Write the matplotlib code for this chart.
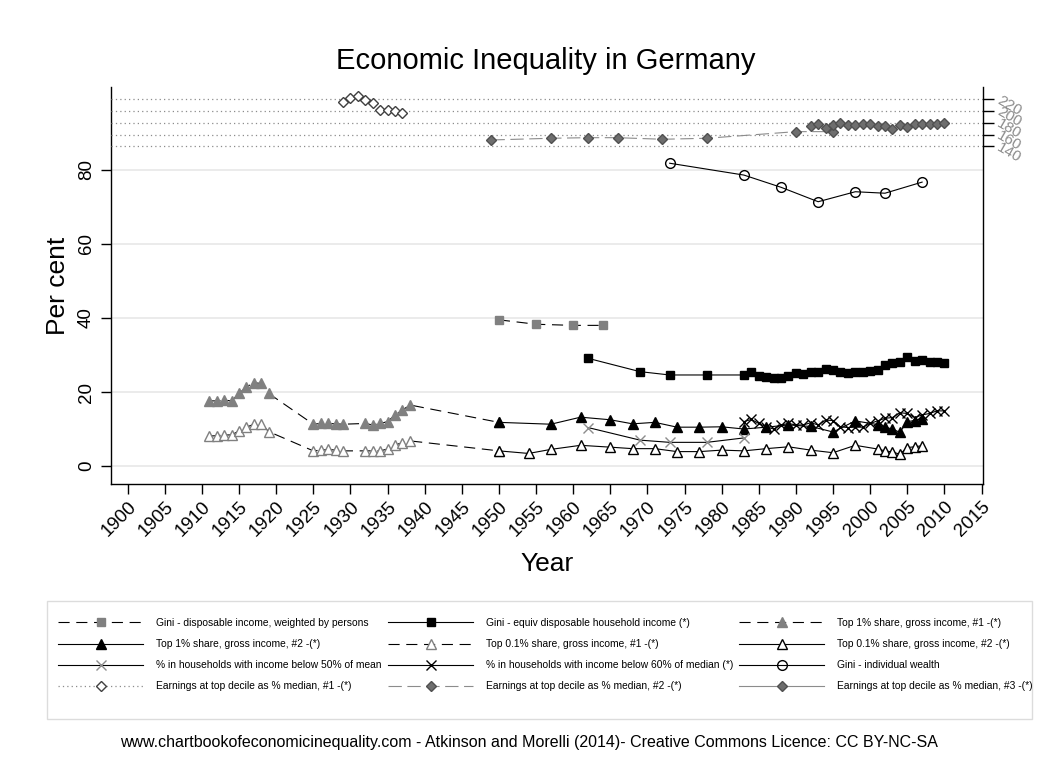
import matplotlib.pyplot as plt
from matplotlib.patches import Rectangle

plt.rcParams['font.family'] = ['Liberation Sans', 'DejaVu Sans']

# ---- data ----
gini_disp_years = [1950, 1955, 1960, 1964]
gini_disp_vals = [39.5, 38.3, 38.0, 38.0]

gini_equiv_years = [1962, 1969, 1973, 1978, 1983, 1984, 1985, 1986, 1987, 1988, 1989,
                    1990, 1991, 1992, 1993, 1994, 1995, 1996, 1997, 1998, 1999, 2000,
                    2001, 2002, 2003, 2004, 2005, 2006, 2007, 2008, 2009, 2010]
gini_equiv_vals = [29.1, 25.5, 24.6, 24.6, 24.6, 25.5, 24.4, 24.1, 23.9, 23.9, 24.4,
                   25.0, 24.8, 25.5, 25.5, 26.2, 26.0, 25.3, 25.0, 25.3, 25.3, 25.7,
                   26.0, 27.3, 27.8, 28.0, 29.5, 28.4, 28.7, 28.2, 28.2, 27.8]

top1_a_years = [1911, 1912, 1913, 1914, 1915, 1916, 1917, 1918, 1919,
                1925, 1926, 1927, 1928, 1929,
                1932, 1933, 1934, 1935, 1936, 1937, 1938, 1950]
top1_a_vals = [17.6, 17.6, 17.8, 17.6, 19.6, 21.4, 22.5, 22.3, 19.6,
               11.3, 11.5, 11.5, 11.4, 11.3,
               11.5, 11.1, 11.5, 12.0, 13.8, 15.1, 16.5, 11.8]

top1_b_years = [1950, 1957, 1961, 1965, 1968, 1971, 1974, 1977, 1980, 1983, 1986,
                1989, 1992, 1995, 1998, 2001, 2002, 2003, 2004, 2005, 2006, 2007]
top1_b_vals = [11.8, 11.3, 13.2, 12.5, 11.4, 11.8, 10.5, 10.5, 10.6, 10.0, 10.5,
               11.1, 10.7, 9.2, 12.2, 11.2, 10.5, 10.0, 9.1, 12.0, 12.3, 12.8]

top01_a_years = [1911, 1912, 1913, 1914, 1915, 1916, 1917, 1918, 1919,
                 1925, 1926, 1927, 1928, 1929,
                 1932, 1933, 1934, 1935, 1936, 1937, 1938, 1950]
top01_a_vals = [8.1, 8.2, 8.4, 8.4, 9.5, 10.5, 11.3, 11.3, 9.3,
                4.1, 4.3, 4.5, 4.3, 4.1,
                4.1, 4.1, 4.1, 4.6, 5.7, 6.3, 6.8, 4.1]

top01_b_years = [1950, 1954, 1957, 1961, 1965, 1968, 1971, 1974, 1977, 1980, 1983,
                 1986, 1989, 1992, 1995, 1998, 2001, 2002, 2003, 2004, 2005, 2006, 2007]
top01_b_vals = [4.1, 3.4, 4.5, 5.6, 5.1, 4.7, 4.7, 3.9, 3.9, 4.3, 4.1,
                4.7, 5.2, 4.3, 3.6, 5.6, 4.6, 4.1, 3.8, 3.2, 5.0, 5.2, 5.5]

pov50_years = [1962, 1969, 1973, 1978, 1983]
pov50_vals = [10.4, 7.0, 6.4, 6.4, 7.6]

pov60_years = [1983, 1984, 1985, 1986, 1987, 1988, 1989, 1990, 1991, 1992, 1993, 1994,
               1995, 1996, 1997, 1998, 1999, 2000, 2001, 2002, 2003, 2004, 2005, 2006,
               2007, 2008, 2009, 2010]
pov60_vals = [12.0, 12.6, 11.5, 10.6, 10.0, 11.1, 11.5, 11.1, 11.1, 11.7, 11.1, 12.4,
              12.3, 10.6, 10.4, 10.5, 10.5, 11.5, 12.2, 12.9, 13.1, 14.4, 14.2, 13.1,
              13.8, 14.2, 14.9, 14.9]

wealth_years = [1973, 1983, 1988, 1993, 1998, 2002, 2007]
wealth_vals = [81.8, 78.6, 75.3, 71.4, 74.1, 73.7, 76.7]

# earnings at top decile, % of median (right axis)
earn1_years = [1929, 1930, 1931, 1932, 1933, 1934, 1935, 1936, 1937]
earn1_vals = [215.9, 221.7, 225.6, 218.8, 213.2, 201.8, 201.8, 200.1, 196.2]

earn2_years = [1949, 1957, 1962, 1966, 1972, 1978, 1990, 1995]
earn2_vals = [150.7, 153.6, 154.6, 154.6, 151.9, 153.6, 164.9, 164.9]

earn3_years = [1992, 1993, 1994, 1995, 1996, 1997, 1998, 1999, 2000, 2001, 2002,
               2003, 2004, 2005, 2006, 2007, 2008, 2009, 2010]
earn3_vals = [175.1, 178.0, 171.7, 176.3, 179.1, 176.3, 176.3, 178.5, 178.5, 174.6,
              175.1, 168.9, 176.3, 173.4, 178.5, 178.5, 178.5, 178.5, 180.2]

x_ticks = list(range(1900, 2016, 5))
left_ticks = [0, 20, 40, 60, 80]
right_ticks = [140, 160, 180, 200, 220]

# ---- figure ----
fig = plt.figure(figsize=(10.51, 7.71), dpi=100)
ax = fig.add_axes([0.1056, 0.3722, 0.8297, 0.515])

gray = '#808080'
dash = (0, (10, 6))
lw = 0.8

h_gdisp, = ax.plot(gini_disp_years, gini_disp_vals, color='black', lw=lw, ls=dash,
                   marker='s', ms=6, mfc=gray, mec=gray,
                   label='Gini - disposable income, weighted by persons')
h_gequiv, = ax.plot(gini_equiv_years, gini_equiv_vals, color='black', lw=lw,
                    marker='s', ms=6, mfc='black', mec='black',
                    label='Gini - equiv disposable household income (*)')
h_t1a, = ax.plot(top1_a_years, top1_a_vals, color='black', lw=lw, ls=dash,
                 marker='^', ms=7, mfc=gray, mec=gray,
                 label='Top 1% share, gross income, #1 -(*)')
h_t1b, = ax.plot(top1_b_years, top1_b_vals, color='black', lw=lw,
                 marker='^', ms=7, mfc='black', mec='black',
                 label='Top 1% share, gross income, #2 -(*)')
h_t01a, = ax.plot(top01_a_years, top01_a_vals, color='black', lw=lw, ls=dash,
                  marker='^', ms=7, mfc='white', mec=gray, mew=1,
                  label='Top 0.1% share, gross income, #1 -(*)')
h_t01b, = ax.plot(top01_b_years, top01_b_vals, color='black', lw=lw,
                  marker='^', ms=7, mfc='white', mec='black', mew=1,
                  label='Top 0.1% share, gross income, #2 -(*)')
h_p50, = ax.plot(pov50_years, pov50_vals, color='black', lw=lw,
                 marker='x', ms=7, mec='#8c8c8c', mew=1,
                 label='% in households with income below 50% of mean')
h_p60, = ax.plot(pov60_years, pov60_vals, color='black', lw=lw,
                 marker='x', ms=7, mec='black', mew=1,
                 label='% in households with income below 60% of median (*)')
h_w, = ax.plot(wealth_years, wealth_vals, color='black', lw=lw,
               marker='o', ms=7, mfc='none', mec='black', mew=1,
               label='Gini - individual wealth')

ax.set_xlim(1897.75, 2015.2)
ax.set_ylim(-4.86, 102.4)
ax.set_xticks(x_ticks)
ax.set_xticklabels([str(t) for t in x_ticks], rotation=45, ha='right',
                   rotation_mode='anchor', fontsize=13.5)
ax.set_yticks(left_ticks)
ax.set_yticklabels([str(t) for t in left_ticks], fontsize=13.5, rotation=90, va='center')
ax.tick_params(axis='x', length=7, width=1, pad=3)
ax.tick_params(axis='y', length=7.5, width=1, pad=4)
ax.grid(axis='y', color='#e8e8e8', lw=1.2)
ax.set_axisbelow(True)
for s in ['top', 'right']:
    ax.spines[s].set_visible(False)
for s in ['left', 'bottom']:
    ax.spines[s].set_linewidth(1)

ax.set_xlabel('Year', fontsize=19)
ax.xaxis.set_label_coords(0.5, -0.172)
ax.set_ylabel('Per cent', fontsize=19)
ax.yaxis.set_label_coords(-0.047, 0.5)

# right axis for earnings
ax2 = ax.twinx()
ax2.set_ylim(-434.8, 240.9)
ax2.set_yticks(right_ticks)
ax2.set_yticklabels([str(t) for t in right_ticks], fontsize=11, color='#8c8c8c',
                    rotation=-30, ha='left', va='center', rotation_mode='anchor')
ax2.tick_params(axis='y', length=8, width=1, pad=3)
ax2.yaxis.grid(True, ls=(0, (1, 2.5)), color='#8c8c8c', lw=0.9)
for s in ['top', 'left', 'bottom']:
    ax2.spines[s].set_visible(False)
ax2.spines['right'].set_linewidth(1)

h_e1, = ax2.plot(earn1_years, earn1_vals, color='#8c8c8c', lw=0.9, ls=(0, (1, 2.5)),
                 marker='D', ms=5.5, mfc='white', mec='#404040', mew=1,
                 label='Earnings at top decile as % median, #1 -(*)')
h_e2, = ax2.plot(earn2_years, earn2_vals, color='#8c8c8c', lw=lw, ls=(0, (12, 5)),
                 marker='D', ms=5.5, mfc='#6e6e6e', mec='#505050',
                 label='Earnings at top decile as % median, #2 -(*)')
h_e3, = ax2.plot(earn3_years, earn3_vals, color='#8c8c8c', lw=lw,
                 marker='D', ms=5.5, mfc='#6e6e6e', mec='#505050',
                 label='Earnings at top decile as % median, #3 -(*)')

# title and note
fig.text(0.5195, 1 - 61 / 771, 'Economic Inequality in Germany', fontsize=21,
         ha='center', va='center')
fig.text(0.503, 1 - 742 / 771,
         'www.chartbookofeconomicinequality.com - Atkinson and Morelli (2014)- '
         'Creative Commons Licence: CC BY-NC-SA',
         fontsize=11.5, ha='center', va='center')

# legend: box plus three columns
fig.patches.append(Rectangle((47 / 1051, 1 - 719 / 771), 985 / 1051, 118 / 771,
                             transform=fig.transFigure, fill=False,
                             edgecolor='#dcdcdc', lw=1))
columns = [
    (58, [h_gdisp, h_t1b, h_p50, h_e1]),
    (388, [h_gequiv, h_t01a, h_p60, h_e2]),
    (739, [h_t1a, h_t01b, h_w, h_e3]),
]
for x0, hs in columns:
    fig.legend(handles=hs, loc='upper left', bbox_to_anchor=(x0 / 1051, 1 - 618 / 771),
               frameon=False, fontsize=7.4, handlelength=8.3, handletextpad=1.25,
               borderpad=0, borderaxespad=0, labelspacing=1.08, numpoints=1)

fig.savefig('out.png', dpi=100)
